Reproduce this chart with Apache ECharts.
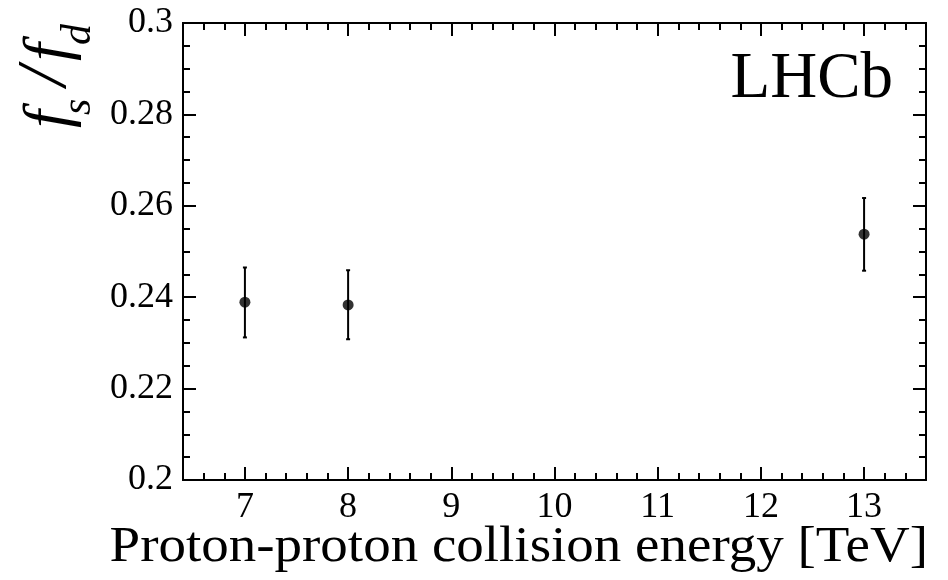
<!DOCTYPE html>
<html>
<head>
<meta charset="utf-8">
<script src="https://cdn.jsdelivr.net/npm/echarts@6/dist/echarts.min.js"></script>
<style>
html, body { margin: 0; padding: 0; background: #fff; }
#main { width: 948px; height: 580px; }
</style>
</head>
<body>
<div id="main"></div>
<script>
// measured points (collision energy in TeV)
var energies = [7, 8, 13];
var fsfd = [0.2389, 0.2383, 0.2538];
var errLow = [0.2312, 0.2308, 0.2458];
var errHigh = [0.2465, 0.2459, 0.2617];

var xMajor = [7, 8, 9, 10, 11, 12, 13];

var myChart = echarts.init(document.getElementById('main'));

var font = 'Liberation Serif';
var frame = { show: true, lineStyle: { color: '#000', width: 2 } };

var points = [];
var bars = [];
for (var i = 0; i < energies.length; i++) {
    points.push([energies[i], fsfd[i]]);
    bars.push([energies[i], errLow[i], errHigh[i]]);
}

function xAxisDef(pos, major, labels) {
    var ax = {
        type: 'value',
        position: pos,
        min: 6.4,
        max: 13.6,
        axisLine: frame,
        splitLine: { show: false },
        axisTick: { show: true, inside: true, length: 7, lineStyle: { color: '#000', width: 2 } },
        axisLabel: { show: false }
    };
    if (major) {
        ax.axisTick.customValues = xMajor;
        ax.axisTick.length = 13;
    } else {
        ax.interval = 0.2;
    }
    if (labels) {
        ax.axisLabel = {
            show: true,
            customValues: xMajor,
            color: '#000',
            fontFamily: font,
            fontSize: 36,
            margin: 10
        };
    }
    return ax;
}

function yAxisDef(pos, labels) {
    return {
        type: 'value',
        position: pos,
        min: 0.2,
        max: 0.3,
        interval: 0.02,
        axisLine: frame,
        splitLine: { show: false },
        axisTick: { show: true, inside: true, length: 13, lineStyle: { color: '#000', width: 2 } },
        minorTick: { show: true, splitNumber: 4, length: 7, lineStyle: { color: '#000', width: 2 } },
        minorSplitLine: { show: false },
        axisLabel: {
            show: labels,
            color: '#000',
            fontFamily: font,
            fontSize: 36,
            margin: 10
        }
    };
}

var ylab = function (txt, size, x, y, italic) {
    return {
        type: 'text',
        x: x,
        y: y,
        style: {
            text: txt,
            fontFamily: font,
            fontSize: size,
            fontStyle: italic ? 'italic' : 'normal',
            fill: '#000',
            align: 'left',
            verticalAlign: 'middle'
        }
    };
};

option = {
    animation: false,
    backgroundColor: '#fff',
    grid: { left: 183, right: 22, top: 23, bottom: 100 },
    xAxis: [
        xAxisDef('bottom', false, false),
        xAxisDef('bottom', true, true),
        xAxisDef('top', false, false),
        xAxisDef('top', true, false)
    ],
    yAxis: [
        yAxisDef('left', true),
        yAxisDef('right', false)
    ],
    graphic: [
        {
            type: 'text',
            x: 928,
            y: 548,
            scaleX: 1.1,
            style: {
                text: 'Proton-proton collision energy [TeV]',
                fontFamily: font,
                fontSize: 50,
                fill: '#000',
                align: 'right',
                verticalAlign: 'middle'
            }
        },
        {
            type: 'text',
            x: 893,
            y: 80,
            style: {
                text: 'LHCb',
                fontFamily: font,
                fontSize: 65,
                fill: '#000',
                align: 'right',
                verticalAlign: 'middle'
            }
        },
        {
            // f_s / f_d, reading bottom to top
            type: 'group',
            x: 0,
            y: 0,
            rotation: Math.PI / 2,
            children: [
                ylab('f', 64, -128, 50, true),
                ylab('s', 42, -115, 79, true),
                ylab('/', 70, -86, 47, true),
                ylab('f', 64, -61, 50, true),
                ylab('d', 42, -45, 79, true)
            ]
        }
    ],
    series: [
        {
            type: 'custom',
            xAxisIndex: 0,
            yAxisIndex: 0,
            data: bars,
            renderItem: function (params, api) {
                var x = api.value(0);
                var lo = api.coord([x, api.value(1)]);
                var hi = api.coord([x, api.value(2)]);
                var st = { stroke: '#000', lineWidth: 2 };
                return {
                    type: 'group',
                    children: [
                        { type: 'line', shape: { x1: lo[0], y1: lo[1], x2: hi[0], y2: hi[1] }, style: st },
                        { type: 'line', shape: { x1: lo[0] - 2, y1: lo[1], x2: lo[0] + 2, y2: lo[1] }, style: st },
                        { type: 'line', shape: { x1: hi[0] - 2, y1: hi[1], x2: hi[0] + 2, y2: hi[1] }, style: st }
                    ]
                };
            }
        },
        {
            type: 'scatter',
            xAxisIndex: 0,
            yAxisIndex: 0,
            symbol: 'circle',
            symbolSize: 11,
            itemStyle: { color: '#000' },
            data: points
        }
    ]
};

myChart.setOption(option);
</script>
</body>
</html>
